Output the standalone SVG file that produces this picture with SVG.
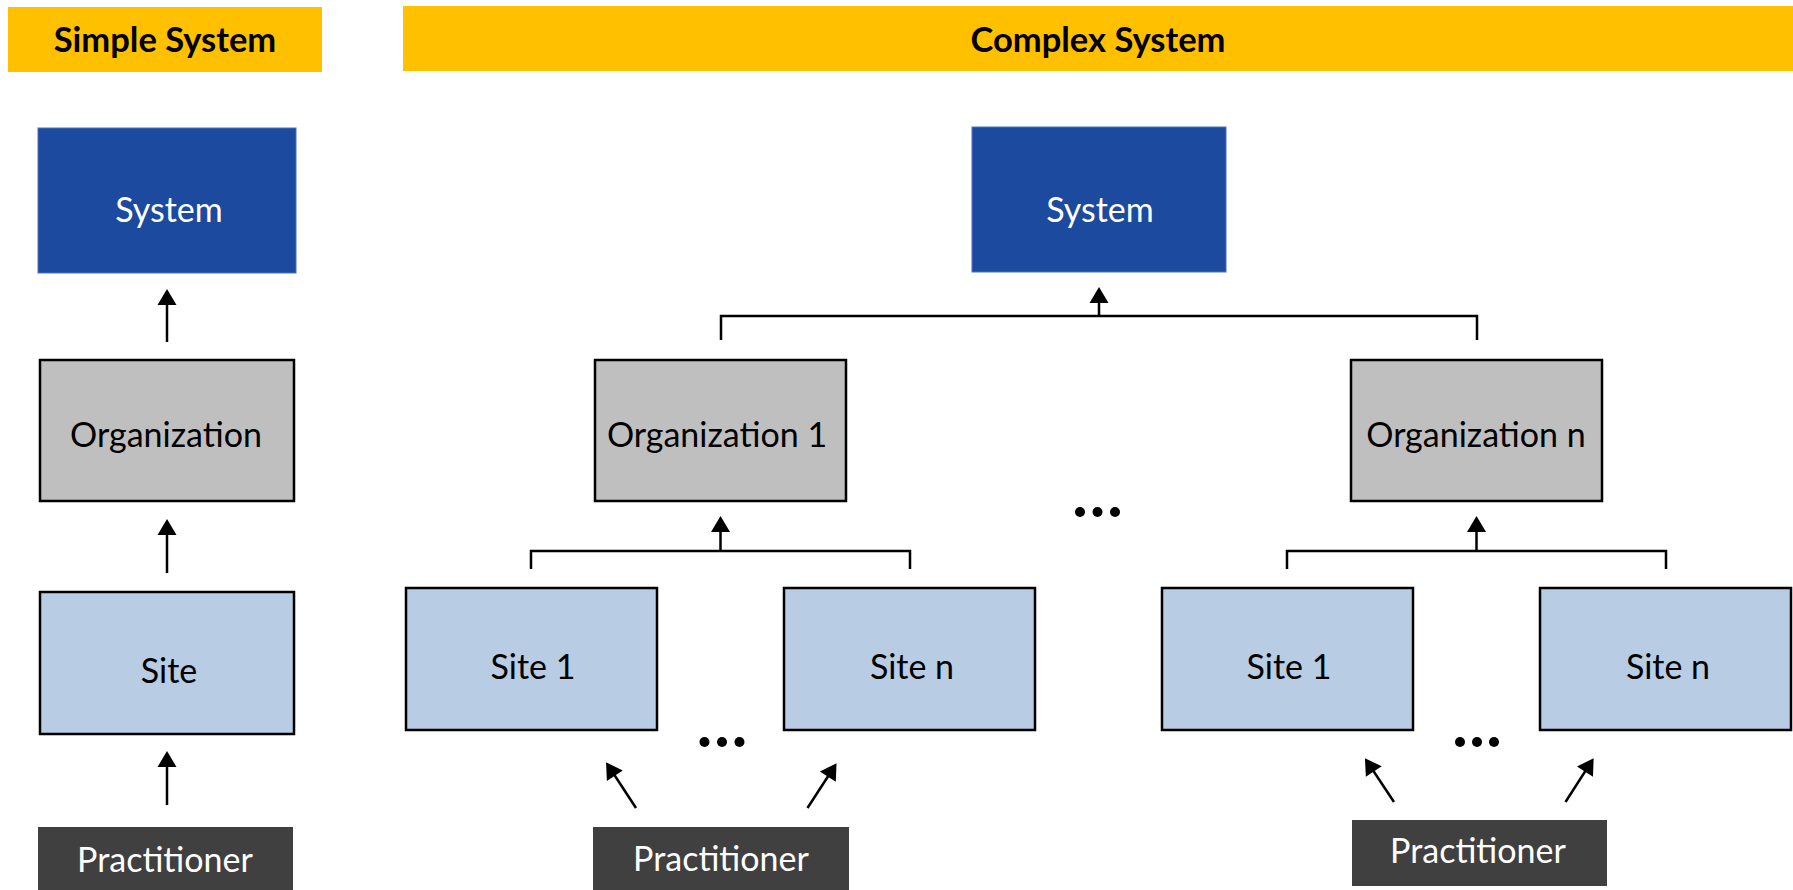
<svg xmlns="http://www.w3.org/2000/svg" width="1793" height="890" viewBox="0 0 1793 890">
  <style>
    .banner { fill: #FFC000; }
    .title { font-family: Lato, "Liberation Sans", sans-serif; font-weight: bold; font-size: 34.5px; fill: #000; text-anchor: middle; }
    .label { font-family: Lato, "Liberation Sans", sans-serif; font-size: 34px; text-anchor: middle; }
    .sys rect { fill: #1C4A9F; stroke: #4A72B8; stroke-width: 1; }
    .sys text { fill: #FFFFFF; }
    .org rect { fill: #BFBFBF; stroke: #000; stroke-width: 2.5; }
    .org text { fill: #000; }
    .site rect { fill: #B8CCE4; stroke: #000; stroke-width: 2.5; }
    .site text { fill: #000; }
    .prac rect { fill: #404040; }
    .prac text { fill: #FFFFFF; }
    .conn { fill: none; stroke: #000; stroke-width: 2.5; }
    .dots circle { fill: #000; }
  </style>
  <defs>
    <marker id="arrow" markerUnits="userSpaceOnUse" markerWidth="18" markerHeight="20" viewBox="0 0 16 20" refX="13" refY="10" orient="auto">
      <path d="M0,0.5 L16,10 L0,19.5 z" fill="#000"/>
    </marker>
  </defs>

  <rect width="1793" height="890" fill="#FFFFFF"/>

  <!-- section banners -->
  <g id="banner-simple">
    <rect class="banner" x="8" y="7" width="314" height="65"/>
    <text class="title" x="165" y="52">Simple System</text>
  </g>
  <g id="banner-complex">
    <rect class="banner" x="403" y="6" width="1390" height="65"/>
    <text class="title" x="1098" y="52">Complex System</text>
  </g>

  <!-- simple system chain -->
  <g id="s-system" class="sys">
    <rect x="38" y="128" width="258" height="145"/>
    <text class="label" x="169" y="222">System</text>
  </g>
  <g id="s-org" class="org">
    <rect x="40" y="360" width="254" height="141"/>
    <text class="label" x="166" y="447">Organization</text>
  </g>
  <g id="s-site" class="site">
    <rect x="40" y="592" width="254" height="142"/>
    <text class="label" x="169" y="683">Site</text>
  </g>
  <g id="s-prac" class="prac">
    <rect x="38" y="827" width="255" height="70"/>
    <text class="label" x="165" y="872">Practitioner</text>
  </g>

  <!-- complex system tree -->
  <g id="c-system" class="sys">
    <rect x="972" y="127" width="254" height="145"/>
    <text class="label" x="1100" y="222">System</text>
  </g>
  <g id="c-org1" class="org">
    <rect x="595" y="360" width="251" height="141"/>
    <text class="label" x="717" y="447">Organization 1</text>
  </g>
  <g id="c-orgn" class="org">
    <rect x="1351" y="360" width="251" height="141"/>
    <text class="label" x="1476" y="447">Organization n</text>
  </g>
  <g id="c-site1a" class="site">
    <rect x="406" y="588" width="251" height="142"/>
    <text class="label" x="533" y="679">Site 1</text>
  </g>
  <g id="c-sitena" class="site">
    <rect x="784" y="588" width="251" height="142"/>
    <text class="label" x="912" y="679">Site n</text>
  </g>
  <g id="c-site1b" class="site">
    <rect x="1162" y="588" width="251" height="142"/>
    <text class="label" x="1289" y="679">Site 1</text>
  </g>
  <g id="c-sitenb" class="site">
    <rect x="1540" y="588" width="251" height="142"/>
    <text class="label" x="1668" y="679">Site n</text>
  </g>
  <g id="c-prac-a" class="prac">
    <rect x="593" y="827" width="256" height="70"/>
    <text class="label" x="721" y="871">Practitioner</text>
  </g>
  <g id="c-prac-b" class="prac">
    <rect x="1352" y="820" width="255" height="66"/>
    <text class="label" x="1478" y="863">Practitioner</text>
  </g>

  <!-- ellipses marking omitted items -->
  <g id="dots-orgs" class="dots">
    <circle cx="1080" cy="512" r="5"/>
    <circle cx="1097.5" cy="512" r="5"/>
    <circle cx="1115" cy="512" r="5"/>
  </g>
  <g id="dots-sites-a" class="dots">
    <circle cx="704.5" cy="742" r="5"/>
    <circle cx="722" cy="742" r="5"/>
    <circle cx="739.5" cy="742" r="5"/>
  </g>
  <g id="dots-sites-b" class="dots">
    <circle cx="1460" cy="742" r="5"/>
    <circle cx="1477" cy="742" r="5"/>
    <circle cx="1494" cy="742" r="5"/>
  </g>

  <!-- connectors -->
  <g id="connectors">
    <!-- simple chain -->
    <path class="conn" d="M167,342 V292" marker-end="url(#arrow)"/>
    <path class="conn" d="M167,573 V522" marker-end="url(#arrow)"/>
    <path class="conn" d="M167,805 V754" marker-end="url(#arrow)"/>

    <!-- organizations to system -->
    <path class="conn" d="M721,340 V316 H1477 V340"/>
    <path class="conn" d="M1099,316 V290" marker-end="url(#arrow)"/>

    <!-- sites to organization 1 -->
    <path class="conn" d="M531,569 V551 H910 V569"/>
    <path class="conn" d="M720.5,551 V519" marker-end="url(#arrow)"/>

    <!-- sites to organization n -->
    <path class="conn" d="M1287,569 V551 H1666 V569"/>
    <path class="conn" d="M1476.5,551 V519" marker-end="url(#arrow)"/>

    <!-- practitioners to sites -->
    <path class="conn" d="M636,808 L607.7,764.8" marker-end="url(#arrow)"/>
    <path class="conn" d="M807.5,808 L834.9,765.7" marker-end="url(#arrow)"/>
    <path class="conn" d="M1394,802 L1366.6,760.7" marker-end="url(#arrow)"/>
    <path class="conn" d="M1565.5,802 L1592,760.7" marker-end="url(#arrow)"/>
  </g>
</svg>
